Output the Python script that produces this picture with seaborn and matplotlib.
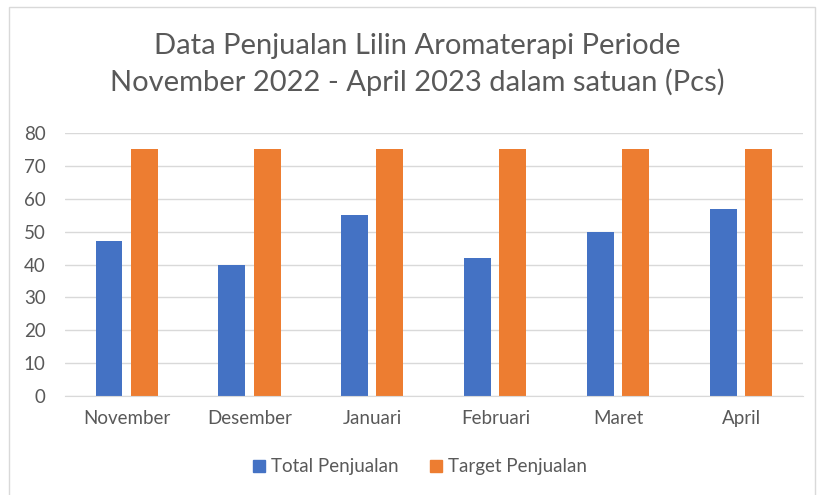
import seaborn as sns
import matplotlib.pyplot as plt
import pandas as pd
from matplotlib.patches import Rectangle

bulan = ["November", "Desember", "Januari", "Februari", "Maret", "April"]
total_penjualan = [47, 40, 55, 42, 50, 57]
target_penjualan = [75, 75, 75, 75, 75, 75]

df = pd.DataFrame({
    "Bulan": bulan * 2,
    "Jumlah": total_penjualan + target_penjualan,
    "Seri": ["Total Penjualan"] * len(bulan) + ["Target Penjualan"] * len(bulan),
})

sns.set_style("white")
plt.rcParams['font.family'] = ['Lato', 'DejaVu Sans']
text_color = "#595959"
colors = ["#4472C4", "#ED7D31"]

fig = plt.figure(figsize=(8.18, 4.95), dpi=100)
ax = fig.add_axes([0.0795, 0.2, 0.902, 0.5313])

sns.barplot(data=df, x="Bulan", y="Jumlah", hue="Seri",
            palette=colors, saturation=1, width=0.57, gap=0.23,
            linewidth=0, ax=ax, legend=False)

ax.set_ylim(0, 80)
ax.set_yticks(range(0, 81, 10))
ax.set_xlim(-0.5, len(bulan) - 0.5)
ax.grid(axis="y", color="#D9D9D9", linewidth=1)
ax.set_axisbelow(True)
for side in ["top", "right", "left"]:
    ax.spines[side].set_visible(False)
ax.spines["bottom"].set_color("#D9D9D9")
ax.tick_params(axis="both", length=0, labelsize=13.5, colors=text_color)
ax.tick_params(axis="x", pad=10)
ax.tick_params(axis="y", pad=14)
ax.set_xlabel("")
ax.set_ylabel("")

fig.text(0.51, 0.87, "Data Penjualan Lilin Aromaterapi Periode\nNovember 2022 - April 2023 dalam satuan (Pcs)",
         ha="center", va="center", fontsize=21, color=text_color, linespacing=1.4)

handles = [plt.Line2D([], [], marker="s", linestyle="", color=c, markersize=9)
           for c in colors]
fig.legend(handles, ["Total Penjualan", "Target Penjualan"], loc="center",
           bbox_to_anchor=(0.513, 0.057), ncol=2, frameon=False, fontsize=13.5,
           labelcolor=text_color, handlelength=0.7, handletextpad=0.3,
           columnspacing=1.6)

fig.patches.append(Rectangle((0.011, -0.01), 0.985, 0.995, transform=fig.transFigure,
                             fill=False, edgecolor="#D9D9D9", linewidth=1))

plt.savefig("out.png", dpi=100)
